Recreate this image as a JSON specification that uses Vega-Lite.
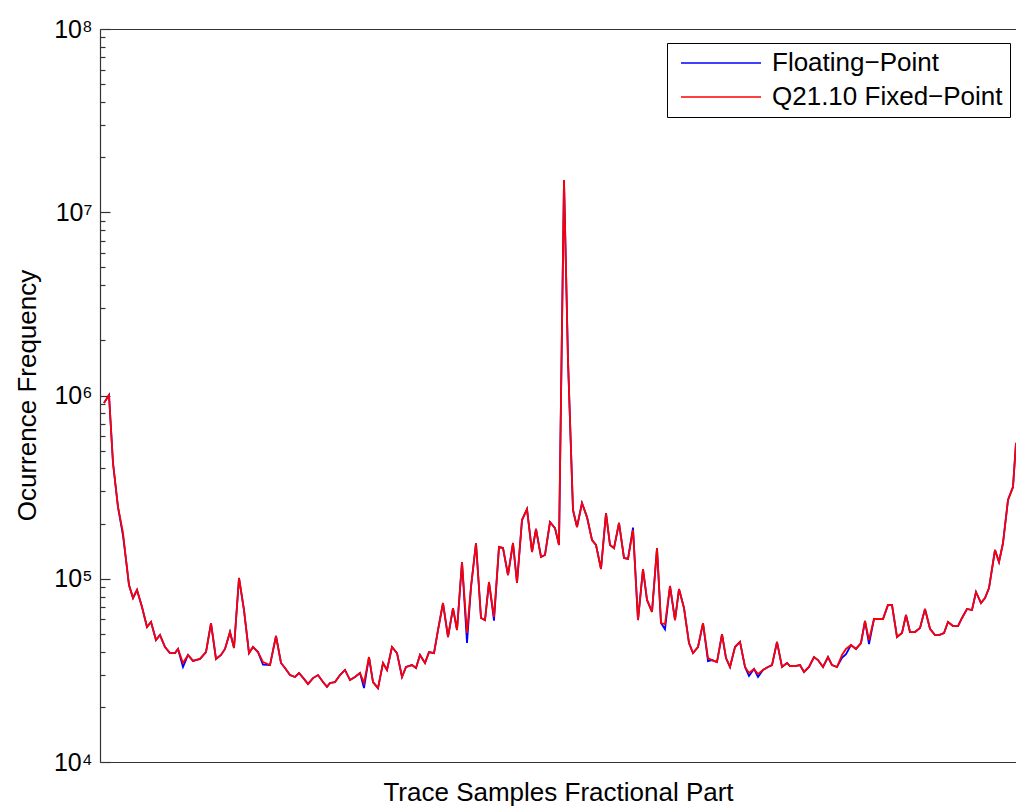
{
  "$schema": "https://vega.github.io/schema/vega-lite/v6.json",
  "width": 916,
  "height": 733,
  "autosize": {"type": "none"},
  "padding": {"left": 100, "top": 29, "right": 0, "bottom": 45},
  "background": "#ffffff",
  "config": {
    "font": "Liberation Sans",
    "view": {"stroke": null},
    "axis": {"domainColor": "#333333", "domainWidth": 1.2, "tickColor": "#333333", "tickWidth": 1.2, "grid": false}
  },
  "data": {"values": [
    {"bin":4,"float":910000,"fixed":910000},{"bin":9,"float":1006000,"fixed":1006000},{"bin":13,"float":428000,"fixed":428000},{"bin":18,"float":246000,"fixed":246000},{"bin":23,"float":172000,"fixed":178000},{"bin":26,"float":127000,"fixed":127000},{"bin":29,"float":92400,"fixed":92400},{"bin":33,"float":78500,"fixed":78500},{"bin":37,"float":86800,"fixed":86800},{"bin":42,"float":70100,"fixed":70100},{"bin":47,"float":54500,"fixed":54500},{"bin":51,"float":58100,"fixed":58100},{"bin":56,"float":46300,"fixed":46300},{"bin":60,"float":49300,"fixed":49300},{"bin":65,"float":42400,"fixed":42400},{"bin":70,"float":39300,"fixed":39300},{"bin":75,"float":39300,"fixed":39300},{"bin":78,"float":41400,"fixed":41400},{"bin":83,"float":33000,"fixed":34700},{"bin":88,"float":38400,"fixed":38400},{"bin":93,"float":35600,"fixed":35600},{"bin":100,"float":36500,"fixed":36500},{"bin":106,"float":39800,"fixed":39800},{"bin":111,"float":57300,"fixed":57300},{"bin":116,"float":36500,"fixed":36500},{"bin":121,"float":38400,"fixed":38400},{"bin":125,"float":41400,"fixed":41400},{"bin":130,"float":51200,"fixed":51200},{"bin":134,"float":41900,"fixed":41900},{"bin":139,"float":101000,"fixed":101000},{"bin":144,"float":67500,"fixed":67500},{"bin":149,"float":39300,"fixed":39300},{"bin":153,"float":42400,"fixed":42400},{"bin":158,"float":39800,"fixed":39800},{"bin":163,"float":34000,"fixed":35100},{"bin":170,"float":33800,"fixed":33800},{"bin":176,"float":48700,"fixed":48700},{"bin":181,"float":34700,"fixed":34700},{"bin":185,"float":32600,"fixed":32600},{"bin":190,"float":29800,"fixed":29800},{"bin":195,"float":29100,"fixed":29100},{"bin":199,"float":30600,"fixed":30600},{"bin":204,"float":28400,"fixed":28400},{"bin":208,"float":26600,"fixed":26600},{"bin":213,"float":28700,"fixed":28700},{"bin":218,"float":29800,"fixed":29800},{"bin":223,"float":27300,"fixed":27300},{"bin":227,"float":25700,"fixed":25700},{"bin":230,"float":27000,"fixed":27000},{"bin":235,"float":27300,"fixed":27300},{"bin":240,"float":29800,"fixed":29800},{"bin":245,"float":31800,"fixed":31800},{"bin":250,"float":28000,"fixed":28000},{"bin":255,"float":29100,"fixed":29100},{"bin":260,"float":30600,"fixed":30600},{"bin":264,"float":25300,"fixed":27000},{"bin":269,"float":37400,"fixed":37400},{"bin":273,"float":27300,"fixed":27300},{"bin":278,"float":25300,"fixed":25300},{"bin":283,"float":34700,"fixed":34700},{"bin":287,"float":31800,"fixed":31800},{"bin":292,"float":42400,"fixed":42400},{"bin":297,"float":39300,"fixed":39300},{"bin":302,"float":29100,"fixed":29100},{"bin":306,"float":33000,"fixed":33000},{"bin":312,"float":33800,"fixed":33800},{"bin":316,"float":32600,"fixed":32600},{"bin":320,"float":38400,"fixed":38400},{"bin":325,"float":34700,"fixed":34700},{"bin":329,"float":39800,"fixed":39800},{"bin":334,"float":39300,"fixed":39300},{"bin":338,"float":52500,"fixed":52500},{"bin":343,"float":73700,"fixed":73700},{"bin":348,"float":48100,"fixed":48100},{"bin":353,"float":69200,"fixed":69200},{"bin":357,"float":52500,"fixed":52500},{"bin":362,"float":123500,"fixed":123500},{"bin":367,"float":44600,"fixed":50600},{"bin":371,"float":90200,"fixed":90200},{"bin":376,"float":156700,"fixed":156700},{"bin":381,"float":61100,"fixed":61100},{"bin":385,"float":59500,"fixed":59500},{"bin":389,"float":96000,"fixed":96000},{"bin":394,"float":59000,"fixed":61800},{"bin":399,"float":149000,"fixed":149000},{"bin":403,"float":147000,"fixed":147000},{"bin":408,"float":104800,"fixed":104800},{"bin":413,"float":156700,"fixed":156700},{"bin":417,"float":94800,"fixed":94800},{"bin":422,"float":209000,"fixed":209000},{"bin":427,"float":240000,"fixed":240000},{"bin":432,"float":140000,"fixed":140000},{"bin":436,"float":186800,"fixed":186800},{"bin":441,"float":131400,"fixed":131400},{"bin":445,"float":134800,"fixed":134800},{"bin":450,"float":204000,"fixed":204000},{"bin":455,"float":189000,"fixed":189000},{"bin":459,"float":152800,"fixed":152800},{"bin":464,"float":15000000,"fixed":15000000},{"bin":468,"float":1560000,"fixed":1560000},{"bin":473,"float":237000,"fixed":237000},{"bin":477,"float":191500,"fixed":191500},{"bin":482,"float":259000,"fixed":259000},{"bin":487,"float":217000,"fixed":217000},{"bin":492,"float":162700,"fixed":162700},{"bin":496,"float":152800,"fixed":152800},{"bin":501,"float":113000,"fixed":113000},{"bin":506,"float":228000,"fixed":228000},{"bin":510,"float":152800,"fixed":152800},{"bin":514,"float":147000,"fixed":147000},{"bin":519,"float":201500,"fixed":201500},{"bin":524,"float":129800,"fixed":129800},{"bin":528,"float":128200,"fixed":128200},{"bin":533,"float":190000,"fixed":184500},{"bin":538,"float":59500,"fixed":59500},{"bin":543,"float":113000,"fixed":113000},{"bin":547,"float":76600,"fixed":76600},{"bin":552,"float":65900,"fixed":65900},{"bin":557,"float":147000,"fixed":147000},{"bin":561,"float":57300,"fixed":57300},{"bin":565,"float":53000,"fixed":56600},{"bin":570,"float":91300,"fixed":91300},{"bin":575,"float":59500,"fixed":59500},{"bin":579,"float":87900,"fixed":87900},{"bin":584,"float":69200,"fixed":69200},{"bin":589,"float":44600,"fixed":44600},{"bin":593,"float":39300,"fixed":39300},{"bin":598,"float":42400,"fixed":42400},{"bin":603,"float":57300,"fixed":57300},{"bin":608,"float":35500,"fixed":36900},{"bin":612,"float":36000,"fixed":36000},{"bin":617,"float":35100,"fixed":35100},{"bin":622,"float":49900,"fixed":49900},{"bin":626,"float":36900,"fixed":36900},{"bin":630,"float":33000,"fixed":33000},{"bin":635,"float":42400,"fixed":42400},{"bin":640,"float":45200,"fixed":45200},{"bin":645,"float":33000,"fixed":33000},{"bin":649,"float":29500,"fixed":30600},{"bin":654,"float":32200,"fixed":32200},{"bin":658,"float":29100,"fixed":30200},{"bin":663,"float":31800,"fixed":31800},{"bin":668,"float":33000,"fixed":33000},{"bin":672,"float":33800,"fixed":33800},{"bin":677,"float":45200,"fixed":45200},{"bin":682,"float":33000,"fixed":33000},{"bin":687,"float":34700,"fixed":34700},{"bin":690,"float":33400,"fixed":33400},{"bin":695,"float":33400,"fixed":33400},{"bin":700,"float":33800,"fixed":33800},{"bin":704,"float":31000,"fixed":31000},{"bin":709,"float":33000,"fixed":33000},{"bin":714,"float":37400,"fixed":37400},{"bin":718,"float":36000,"fixed":36000},{"bin":723,"float":33000,"fixed":33000},{"bin":728,"float":37400,"fixed":37400},{"bin":732,"float":33800,"fixed":33800},{"bin":737,"float":33000,"fixed":33000},{"bin":742,"float":37000,"fixed":38400},{"bin":746,"float":38800,"fixed":41400},{"bin":751,"float":43500,"fixed":43500},{"bin":756,"float":41400,"fixed":41400},{"bin":761,"float":44600,"fixed":44600},{"bin":765,"float":58800,"fixed":58800},{"bin":769,"float":44000,"fixed":46300},{"bin":774,"float":60300,"fixed":60300},{"bin":778,"float":60300,"fixed":60300},{"bin":783,"float":60300,"fixed":60300},{"bin":788,"float":71900,"fixed":71900},{"bin":792,"float":71900,"fixed":71900},{"bin":797,"float":48100,"fixed":48100},{"bin":802,"float":50600,"fixed":50600},{"bin":806,"float":63400,"fixed":63400},{"bin":810,"float":51200,"fixed":51200},{"bin":815,"float":51200,"fixed":51200},{"bin":820,"float":53900,"fixed":53900},{"bin":825,"float":68400,"fixed":68400},{"bin":830,"float":53300,"fixed":53300},{"bin":835,"float":49300,"fixed":49300},{"bin":839,"float":49300,"fixed":49300},{"bin":844,"float":50600,"fixed":50600},{"bin":848,"float":58100,"fixed":58100},{"bin":853,"float":55200,"fixed":55200},{"bin":858,"float":55200,"fixed":55200},{"bin":862,"float":61100,"fixed":61100},{"bin":867,"float":68400,"fixed":68400},{"bin":872,"float":67500,"fixed":67500},{"bin":876,"float":84700,"fixed":84700},{"bin":881,"float":73700,"fixed":73700},{"bin":885,"float":78500,"fixed":78500},{"bin":889,"float":89000,"fixed":89000},{"bin":895,"float":143500,"fixed":143500},{"bin":899,"float":123500,"fixed":123500},{"bin":903,"float":156700,"fixed":156700},{"bin":908,"float":269000,"fixed":269000},{"bin":913,"float":317000,"fixed":317000},{"bin":916,"float":551000,"fixed":551000}
  ]},
  "layer": [
    {
      "mark": {"type": "line", "strokeWidth": 1.8, "clip": true},
      "encoding": {
        "x": {"field": "bin", "type": "quantitative", "scale": {"domain": [0, 916], "nice": false, "zero": false},
          "axis": {"orient": "bottom", "domain": true, "ticks": false, "labels": false, "title": "Trace Samples Fractional Part", "titleFontSize": 26, "titleFontWeight": "normal", "titleColor": "#000000", "titleBaseline": "middle", "titleY": 30}},
        "y": {"field": "float", "type": "quantitative", "scale": {"type": "log", "domain": [10000, 100000000], "nice": false},
          "axis": {"orient": "left", "domain": true, "ticks": false, "values": [10000, 100000, 1000000, 10000000, 100000000],
            "labelExpr": "'10' + ['⁰','¹','²','³','⁴','⁵','⁶','⁷','⁸','⁹'][round(log(datum.value)/LN10)]",
            "labelFontSize": 25, "labelColor": "#000000", "labelPadding": 8, "labelFlush": false, "labelOverlap": false,
            "title": "Ocurrence Frequency", "titleFontSize": 26, "titleFontWeight": "normal", "titleColor": "#000000", "titleBaseline": "middle", "titleX": -73, "titleY": 366}},
        "color": {"datum": "Floating−Point", "type": "nominal",
          "scale": {"domain": ["Floating−Point", "Q21.10 Fixed−Point"], "range": ["#0000ff", "#ff0000"]},
          "legend": {"orient": "none", "legendX": 567, "legendY": 14, "title": null, "symbolType": "M-0.6,0H7.4", "symbolSize": 400, "symbolStrokeWidth": 1.5, "symbolFillColor": "transparent",
            "labelFontSize": 26, "labelColor": "#000000", "labelOffset": 72, "labelLimit": 0, "strokeColor": "#000000", "fillColor": "#ffffff", "padding": 7, "rowPadding": 8}}
      }
    },
    {
      "mark": {"type": "line", "strokeWidth": 1.8, "clip": true},
      "encoding": {
        "x": {"field": "bin", "type": "quantitative",
          "axis": {"orient": "top", "domain": true, "ticks": false, "labels": false, "title": null}},
        "y": {"field": "fixed", "type": "quantitative",
          "axis": {"orient": "left", "domain": false, "labels": false, "title": null, "ticks": true,
            "values": [10000,20000,30000,40000,50000,60000,70000,80000,90000,100000,200000,300000,400000,500000,600000,700000,800000,900000,1000000,2000000,3000000,4000000,5000000,6000000,7000000,8000000,9000000,10000000,20000000,30000000,40000000,50000000,60000000,70000000,80000000,90000000,100000000],
            "tickSize": {"condition": {"test": "datum.value == 10000 || datum.value == 100000 || datum.value == 1000000 || datum.value == 10000000 || datum.value == 100000000", "value": -10}, "value": -5}}},
        "color": {"datum": "Q21.10 Fixed−Point", "type": "nominal"}
      }
    }
  ],
  "resolve": {"axis": {"x": "independent", "y": "independent"}}
}
